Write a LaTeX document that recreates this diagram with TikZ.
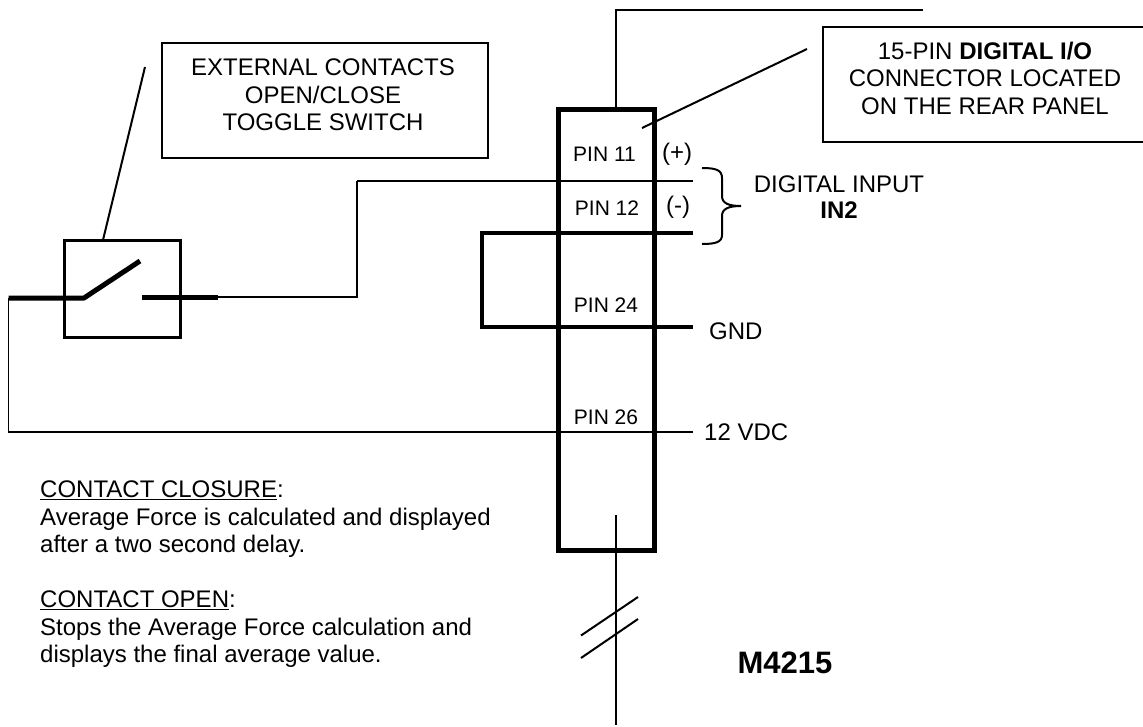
\documentclass[tikz,border=0pt]{standalone}
\usepackage{fontspec}
\setmainfont{Liberation Sans}
\tikzset{
	thinwire/.style={line width=1.4pt},
	wire/.style={line width=2pt},
	heavywire/.style={line width=3.3pt},
	contact/.style={line width=5pt},
	labelbox/.style={draw, line width=2pt, minimum height=115pt, anchor=north west, inner sep=0pt},
	pinlabel/.style={font=\fontsize{21}{24}\selectfont, inner sep=0pt, anchor=base},
	sidelabel/.style={font=\fontsize{24}{27.5}\selectfont, inner sep=0pt, align=center},
}
\begin{document}
\begin{tikzpicture}[x=1pt, y=-1pt]
	\clip (0,0) rectangle (1143,726);
	% connector body
	\draw[line width=5pt] (558.5,109.5) rectangle (654.5,550.5);
	\coordinate (top) at (616,107);
	\coordinate (topcorner) at (616,9.5);
	\coordinate (topend) at (923,9.5);
	\draw[wire] (top) -- (topcorner) -- (topend);
	% text boxes
	\node[labelbox, minimum width=326pt] (extbox) at (161,42) {};
	\node[labelbox, minimum width=326pt] (pinbox) at (822,25.5) {};
	\node[sidelabel] (exttext) at (323,95) {EXTERNAL CONTACTS\\OPEN/CLOSE\\TOGGLE SWITCH};
	\node[sidelabel] (pintext) at (985,78) {15-PIN \textbf{DIGITAL I/O}\\CONNECTOR LOCATED\\ON THE REAR PANEL};
	\coordinate (pinleader) at (807,49);
	\coordinate (pintip) at (642,128);
	\draw[wire] (pinleader) -- (pintip);
	% pins
	\node[pinlabel] (pin11) at (604.5,161) {PIN 11};
	\node[pinlabel] (pin12) at (607,215) {PIN 12};
	\node[pinlabel] (pin24) at (606,312) {PIN 24};
	\node[pinlabel] (pin26) at (606,424) {PIN 26};
	\node[sidelabel, anchor=base] (plus) at (677,160) {(+)};
	\node[sidelabel, anchor=base] (minus) at (678,213) {(-)};
	\node[sidelabel, anchor=base west] (gnd) at (709,339) {GND};
	\node[sidelabel, anchor=base west] (vdc) at (704,440) {12 VDC};
	\node[sidelabel, anchor=base] (input) at (839,192) {DIGITAL INPUT};
	\node[sidelabel, anchor=base] (inname) at (839,218) {\textbf{IN2}};
	% input wires
	\coordinate (inplusend) at (693,181);
	\coordinate (inpluscorner) at (357,181);
	\coordinate (swright) at (357,297);
	\coordinate (inminusend) at (693,233);
	\coordinate (jumpertop) at (482,233);
	\coordinate (jumperbot) at (482,327);
	\coordinate (gndend) at (693,327);
	\coordinate (vdcend) at (693,432);
	\coordinate (vdccorner) at (8.5,432);
	\coordinate (swleft) at (8.5,298);
	\draw[wire] (inplusend) -- (inpluscorner);
	\draw[thinwire] (inpluscorner) -- (swright) -- (218,297);
	\draw[heavywire] (inminusend) -- (jumpertop) -- (jumperbot) -- (gndend);
	\draw[thinwire] (vdcend) -- (vdccorner) -- (swleft);
	% brace
	\draw[wire] (702,168) .. controls (716,168) and (722,170) .. (722,178) -- (722,196)
		.. controls (722,203) and (728,206) .. (741,206)
		.. controls (728,206) and (722,209) .. (722,216) -- (722,235)
		.. controls (722,242) and (716,244) .. (702,244);
	% switch
	\draw[line width=3pt] (64,240) rectangle (180,337);
	\coordinate (swhinge) at (84,298);
	\draw[contact, line join=bevel] (swleft) -- (swhinge) -- (140,261);
	\draw[contact] (142,297) -- (218,297);
	\coordinate (extleader) at (145,67);
	\coordinate (swtop) at (103,240);
	\draw[wire] (extleader) -- (swtop);
	% bus
	\coordinate (bustop) at (616,515);
	\coordinate (busend) at (616,725);
	\draw[wire] (bustop) -- (busend);
	\draw[wire] (581,635.5) -- (638,597);
	\draw[wire] (581,658) -- (638,619);
	\node[font=\bfseries\fontsize{31}{36}\selectfont, inner sep=0pt] (model) at (785,663) {M4215};
	% notes
	\node[font=\fontsize{24}{27.5}\selectfont, inner sep=0pt, align=left, anchor=north west] (notes) at (40,481) {\underline{CONTACT CLOSURE}:\\Average Force is calculated and displayed\\after a two second delay.\\[27.5pt]\underline{CONTACT OPEN}:\\Stops the Average Force calculation and\\displays the final average value.};
\end{tikzpicture}
\end{document}
